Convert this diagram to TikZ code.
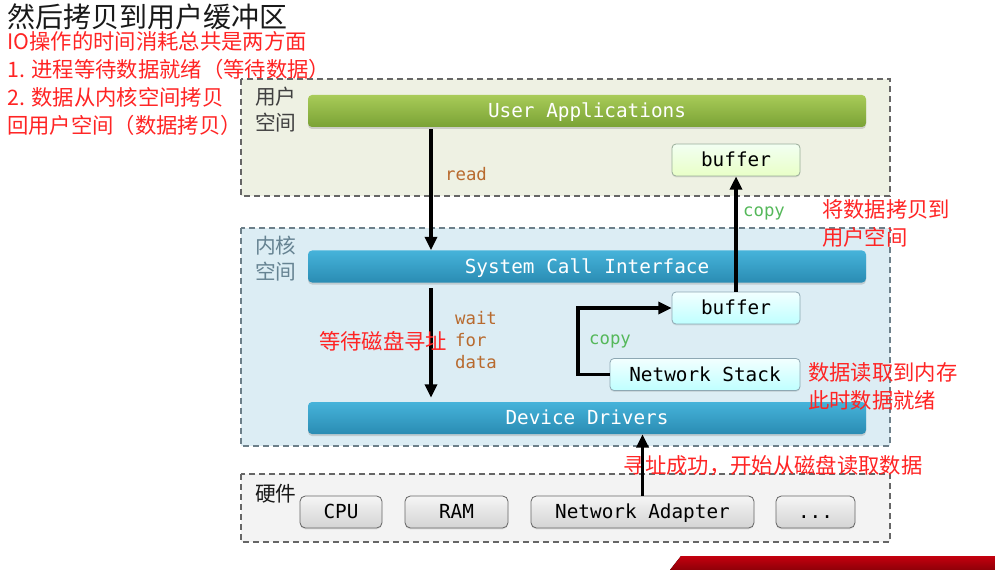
\documentclass[tikz,border=0pt]{standalone}
\usepackage{fontspec}
\setmonofont{DejaVu Sans Mono}
\newfontfamily\cjk{Noto Sans CJK SC}
\usepackage{xcolor}
\usetikzlibrary{arrows.meta,shadows}
\definecolor{note-red}{HTML}{FF2424}
\definecolor{label-brown}{HTML}{B86A2E}
\definecolor{label-green}{HTML}{55B85A}
\definecolor{user-fill}{HTML}{EEF1E3}
\definecolor{kernel-fill}{HTML}{DCEDF4}
\definecolor{hw-fill}{HTML}{F3F3F3}
\definecolor{apps-top}{HTML}{A8CB58}
\definecolor{apps-bottom}{HTML}{7AA235}
\definecolor{layer-top}{HTML}{46B3DA}
\definecolor{layer-bottom}{HTML}{2A8CB3}
\definecolor{banner-top}{HTML}{C4000E}
\definecolor{banner-bottom}{HTML}{8E0008}
\tikzset{
    region-box/.style = {draw=#1, line width=0.9pt, dash pattern=on 4.5pt off 3pt},
    layer-bar/.style = {rectangle, rounded corners=3pt, minimum width=418.5pt, minimum height=24pt, inner sep=0pt, text height=12pt, text depth=2pt, text=white, font=\ttfamily\fontsize{14.5}{16}\selectfont, drop shadow={opacity=0.3, shadow xshift=0pt, shadow yshift=-1.5pt}},
    green-bar/.style = {layer-bar, top color=apps-top, bottom color=apps-bottom},
    blue-bar/.style = {layer-bar, top color=layer-top, bottom color=layer-bottom},
    buffer-box/.style = {rectangle, rounded corners=3pt, draw=#1, line width=0.6pt, minimum height=24pt, inner sep=0pt, text height=12pt, text depth=2pt, font=\ttfamily\fontsize{14.5}{16}\selectfont, drop shadow={opacity=0.2, shadow xshift=0pt, shadow yshift=-1pt}},
    hw-box/.style = {rectangle, rounded corners=4pt, draw=black!60, line width=0.6pt, minimum height=24pt, inner sep=0pt, text height=12pt, text depth=2pt, top color=white!96!black, bottom color=black!17, font=\ttfamily\fontsize{14.5}{16}\selectfont, drop shadow={opacity=0.2, shadow xshift=0pt, shadow yshift=-1pt}},
    region-title/.style = {align=left, inner sep=0pt, font=\cjk\fontsize{15.5}{19}\selectfont},
    note-text/.style = {text=note-red, align=left, inner sep=0pt, font=\cjk\fontsize{16}{21}\selectfont},
    flow-label/.style = {inner sep=0pt, align=left, font=\ttfamily\fontsize{13}{16.5}\selectfont},
    flow/.style = {line width=2.6pt, -{Triangle[width=9pt,length=10pt]}},
}

\begin{document}
\begin{tikzpicture}[x=0.75pt, y=-0.75pt]
\useasboundingbox (0,0) rectangle (995,570);

% notes at the top left
\node[inner sep=0pt, anchor=west, font=\cjk\fontsize{21}{24}\selectfont, text=black!90] (title) at (7,17) {然后拷贝到用户缓冲区};
\node[note-text, anchor=north west] (io-note) at (7,31) {IO操作的时间消耗总共是两方面\\1. 进程等待数据就绪（等待数据）\\2. 数据从内核空间拷贝\\回用户空间（数据拷贝）};

% the three regions
\filldraw[region-box=black!60, fill=user-fill] (241,79) rectangle (890,196);
\filldraw[region-box=cyan!30!black!75, fill=kernel-fill] (241,228) rectangle (890,446);
\filldraw[region-box=black!60, fill=hw-fill] (241,474) rectangle (890,542);
\node[region-title, anchor=north west, text=black!75] (user-title) at (255,87) {用户\\空间};
\node[region-title, anchor=north west, text=cyan!40!black!80] (kernel-title) at (255,236) {内核\\空间};
\node[region-title, anchor=west, text=black!90] (hw-title) at (255,494) {硬件};

% layers
\node[green-bar] (apps) at (587,111) {User Applications};
\node[blue-bar] (sci) at (587,266.5) {System Call Interface};
\node[blue-bar] (drivers) at (587,418) {Device Drivers};

% buffers
\node[buffer-box=green!20!black!40, minimum width=96pt, top color=green!5!white, bottom color=green!40!yellow!22!white] (user-buf) at (736,160) {buffer};
\node[buffer-box=cyan!40!black!55, minimum width=96pt, top color=cyan!5!white, bottom color=cyan!25!white] (kernel-buf) at (736,308) {buffer};
\node[buffer-box=cyan!40!black!55, minimum width=142.5pt, top color=cyan!5!white, bottom color=cyan!25!white] (net-stack) at (705,374.5) {Network Stack};

% hardware
\node[hw-box, minimum width=61.5pt] (cpu) at (341,512) {CPU};
\node[hw-box, minimum width=77.25pt] (ram) at (456.5,512) {RAM};
\node[hw-box, minimum width=167.25pt] (adapter) at (642.5,512) {Network Adapter};
\node[hw-box, minimum width=59.25pt] (more) at (815.5,512) {...};

% connectors
\coordinate (read-x) at (431,0);
\coordinate (copy-x) at (578,0);
\draw[flow] ([yshift=-1.5pt]apps.south -| read-x) -- (sci.north -| read-x);
\draw[flow] ([yshift=-4pt]sci.south -| read-x) -- ([yshift=3pt]drivers.north -| read-x);
\draw[flow] (net-stack.west) -- (net-stack.west -| copy-x) |- (kernel-buf.west);
\draw[flow] (kernel-buf.north) -- (user-buf.south);

\node[flow-label, text=label-brown] (read-label) at (466,174) {read};
\node[flow-label, text=label-brown] (wait-label) at (476,340) {wait\\for\\data};
\node[flow-label, text=label-green] (copy-up) at (764,213) {copy};
\node[flow-label, text=label-green] (copy-side) at (610,341) {copy};

% red notes
\node[note-text] (seek-note) at (383,341) {等待磁盘寻址};
\node[note-text, anchor=north west] (copy-note) at (822,199) {将数据拷贝到\\用户空间};
\node[note-text, anchor=north west] (ready-note) at (808,362) {数据读取到内存\\此时数据就绪};
\node[note-text] (found-note) at (773,466) {寻址成功，开始从磁盘读取数据};
\draw[flow] (adapter.north) -- (drivers.south -| adapter.north);

% banner cut off at the bottom
\fill[top color=banner-top, bottom color=banner-bottom] (670,570) -- (681,556) -- (995,556) -- (995,570) -- cycle;
\end{tikzpicture}
\end{document}
